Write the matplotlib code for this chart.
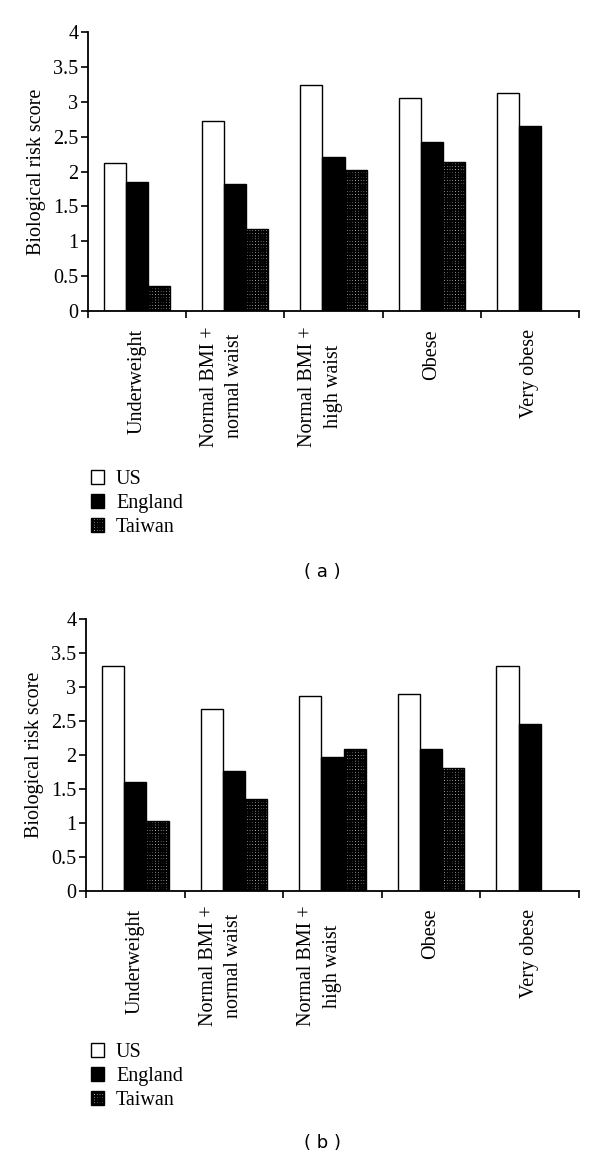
import matplotlib
matplotlib.use("Agg")
import matplotlib.pyplot as plt
import matplotlib.transforms as mtransforms
from matplotlib.patches import Patch
import numpy as np

# 数据
categories = ["Underweight", "Normal BMI +\nnormal waist", "Normal BMI +\nhigh waist",
              "Obese", "Very obese"]
series = ["US", "England", "Taiwan"]

us_a = [2.12, 2.72, 3.24, 3.05, 3.12]
england_a = [1.85, 1.82, 2.21, 2.43, 2.65]
taiwan_a = [0.36, 1.17, 2.02, 2.13, np.nan]

us_b = [3.31, 2.68, 2.87, 2.90, 3.31]
england_b = [1.60, 1.77, 1.97, 2.09, 2.45]
taiwan_b = [1.02, 1.35, 2.09, 1.81, np.nan]

yticks = [0, 0.5, 1, 1.5, 2, 2.5, 3, 3.5, 4]
ytick_labels = ["0", "0.5", "1", "1.5", "2", "2.5", "3", "3.5", "4"]

plt.rcParams['font.family'] = ['Liberation Serif', 'DejaVu Serif']
plt.rcParams['hatch.linewidth'] = 1.4
FS = 14.5

styles = [
    dict(facecolor="white", edgecolor="black", hatch=None),
    dict(facecolor="black", edgecolor="black", hatch=None),
    dict(facecolor="white", edgecolor="black", hatch="++++++"),
]


def draw_panel(ax, values):
    x = np.arange(len(categories))
    w = 0.225
    for k, vals in enumerate(values):
        st = styles[k]
        ax.bar(x + (k - 1) * w, vals, width=w, facecolor=st["facecolor"],
               edgecolor=st["edgecolor"], hatch=st["hatch"], linewidth=1.0,
               label=series[k])
    ax.set_xlim(-0.5, len(categories) - 0.5)
    ax.set_ylim(0, 4)
    ax.set_yticks(yticks)
    ax.set_yticklabels(ytick_labels, fontsize=FS)
    ax.set_xticks(x)
    ax.set_xticklabels(categories, rotation=90, fontsize=FS, va="top",
                       ha="center", multialignment="center", linespacing=1.45)
    ax.set_xticks(np.arange(len(categories) + 1) - 0.5, minor=True)
    ax.tick_params(axis="x", which="major", length=0, pad=13)
    ax.tick_params(axis="x", which="minor", length=5, width=1.2, direction="out")
    ax.tick_params(axis="y", length=5, width=1.2, direction="out", pad=2)
    for s in ["top", "right"]:
        ax.spines[s].set_visible(False)
    for s in ["left", "bottom"]:
        ax.spines[s].set_linewidth(1.3)
    ax.set_ylabel("Biological risk score", fontsize=FS, labelpad=5)
    # 两行标签稍微左移
    for lab in ax.get_xticklabels():
        if "\n" in lab.get_text():
            off = mtransforms.ScaledTranslation(-0.13, 0.03, ax.figure.dpi_scale_trans)
            lab.set_transform(lab.get_transform() + off)


fig = plt.figure(figsize=(6, 11.6), dpi=100)

ax1 = fig.add_axes([0.1467, 0.7319, 0.8183, 0.2405])
draw_panel(ax1, [us_a, england_a, taiwan_a])

ax2 = fig.add_axes([0.1433, 0.2322, 0.8217, 0.2339])
draw_panel(ax2, [us_b, england_b, taiwan_b])

handles = [Patch(facecolor=st["facecolor"], edgecolor="black", hatch=st["hatch"],
                 linewidth=1.0) for st in styles]

fig.legend(handles, series, loc="upper left", bbox_to_anchor=(0.138, 1 - 462 / 1160),
           frameon=False, fontsize=FS, handlelength=0.65, handleheight=0.65,
           handletextpad=0.6, labelspacing=0.25, borderaxespad=0)
fig.legend(handles, series, loc="upper left", bbox_to_anchor=(0.138, 1 - 1035 / 1160),
           frameon=False, fontsize=FS, handlelength=0.65, handleheight=0.65,
           handletextpad=0.6, labelspacing=0.25, borderaxespad=0)

fig.text(0.538, 1 - 572 / 1160, "( a )", ha="center", va="center", fontsize=13,
         family="DejaVu Sans")
fig.text(0.538, 1 - 1143 / 1160, "( b )", ha="center", va="center", fontsize=13,
         family="DejaVu Sans")

fig.savefig("out.png", dpi=100)
